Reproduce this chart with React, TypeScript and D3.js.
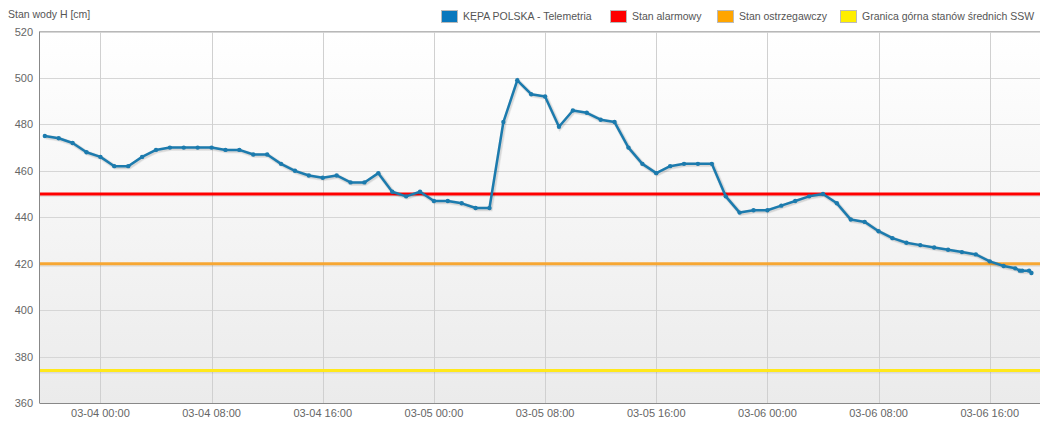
import * as d3 from "d3";

const width = 1040;
const height = 422;
const margin = { top: 31.5, right: 0, bottom: 19, left: 39.5 };

// hourly readings, from 03-03 20:00 to 03-06 17:00
const hourlyStart = new Date(2024, 2, 3, 20, 0);
const hourlyValues = [
  475, 474, 472, 468, 466, 462, 462, 466, 469, 470, 470, 470, 470, 469, 469, 467,
  467, 463, 460, 458, 457, 458, 455, 455, 459, 451, 449, 451, 447, 447, 446, 444,
  444, 481, 499, 493, 492, 479, 486, 485, 482, 481, 470, 463, 459, 462, 463, 463,
  463, 449, 442, 443, 443, 445, 447, 449, 450, 446, 439, 438, 434, 431, 429, 428,
  427, 426, 425, 424, 421, 419,
];
// denser readings at the end of the series
const tailTimes = ["03-06 17:50", "03-06 18:10", "03-06 18:20", "03-06 18:50", "03-06 19:00"];
const tailValues = [418, 417, 417, 417, 416];

const thresholdNames = ["Stan alarmowy", "Stan ostrzegawczy", "Granica górna stanów średnich SSW"];
const thresholdValues = [450, 420, 374];
const thresholdColors = ["#ff0000", "#f7a733", "#ffe81a"];
const legendColors = ["#ff0000", "#ffa500", "#ffee00"];

const seriesName = "KĘPA POLSKA - Telemetria";
const seriesColor = "#1c7bae";
const yTicks = [360, 380, 400, 420, 440, 460, 480, 500, 520];

const parseTail = d3.timeParse("%Y-%m-%d %H:%M");

export default function App() {
  const hourTimes = d3.timeHour.range(hourlyStart, d3.timeHour.offset(hourlyStart, hourlyValues.length));
  const data = [
    ...hourlyValues.map((v, i) => ({ t: hourTimes[i], v })),
    ...tailValues.map((v, i) => ({ t: parseTail("2024-" + tailTimes[i])!, v })),
  ];

  const x = d3
    .scaleTime()
    .domain([new Date(2024, 2, 3, 19, 37), new Date(2024, 2, 6, 19, 37)])
    .range([margin.left, width - margin.right]);
  const y = d3.scaleLinear().domain([360, 520]).range([height - margin.bottom, margin.top]);

  const xTicks = d3.timeHour.every(8)!.range(new Date(2024, 2, 4, 0, 0), new Date(2024, 2, 6, 19, 0));
  const fmt = d3.timeFormat("%m-%d %H:%M");

  const line = d3
    .line<{ t: Date; v: number }>()
    .x((d) => x(d.t))
    .y((d) => y(d.v));

  const path = line(data)!;
  const x0 = margin.left;
  const x1 = width - margin.right;
  const yTop = margin.top;
  const yBot = height - margin.bottom;

  // legend layout
  const legendItems = [
    { name: seriesName, color: "#0a78bd", x: 441 },
    { name: thresholdNames[0], color: legendColors[0], x: 610 },
    { name: thresholdNames[1], color: legendColors[1], x: 717 },
    { name: thresholdNames[2], color: legendColors[2], x: 840 },
  ];

  return (
    <svg
      width={width}
      height={height}
      style={{ position: "absolute", left: 0, top: 0, fontFamily: "Arial, 'Liberation Sans', sans-serif" }}
    >
      <defs>
        <linearGradient id="bg" x1="0" y1="0" x2="0" y2="1">
          <stop offset="0" stopColor="#ffffff" />
          <stop offset="1" stopColor="#ebebeb" />
        </linearGradient>
        <clipPath id="plot">
          <rect x={x0} y={yTop} width={x1 - x0} height={yBot - yTop} />
        </clipPath>
      </defs>
      <rect x={0} y={0} width={width} height={height} fill="#fff" />
      <rect x={x0} y={yTop} width={x1 - x0} height={yBot - yTop} fill="url(#bg)" />

      {/* grid */}
      {yTicks.map((t) => (
        <line key={"gy" + t} x1={x0} x2={x1} y1={Math.round(y(t)) + 0.5} y2={Math.round(y(t)) + 0.5} stroke="#d6d6d6" />
      ))}
      {xTicks.map((t) => (
        <line
          key={"gx" + +t}
          x1={Math.round(x(t)) + 0.5}
          x2={Math.round(x(t)) + 0.5}
          y1={yTop}
          y2={yBot}
          stroke="#d0d0d0"
        />
      ))}

      <g clipPath="url(#plot)">
        {thresholdValues.map((v, i) => (
          <g key={"th" + i}>
            <line x1={x0} x2={x1} y1={y(v) + 1.5} y2={y(v) + 1.5} stroke="#000" strokeOpacity={0.08} strokeWidth={3} />
            <line x1={x0} x2={x1} y1={y(v)} y2={y(v)} stroke={thresholdColors[i]} strokeWidth={3} />
          </g>
        ))}

        {/* series shadow */}
        <path d={path} fill="none" stroke="#000" strokeOpacity={0.06} strokeWidth={5} transform="translate(1,1)" />
        <path d={path} fill="none" stroke="#000" strokeOpacity={0.08} strokeWidth={3.5} transform="translate(1,1)" />
        <path d={path} fill="none" stroke={seriesColor} strokeWidth={2.5} strokeLinejoin="round" />
        {data.map((d, i) => (
          <circle key={"p" + i} cx={x(d.t)} cy={y(d.v)} r={2.2} fill={seriesColor} />
        ))}
      </g>

      {/* axes / frame */}
      <line x1={x0} x2={x1} y1={yTop} y2={yTop} stroke="#b8b8b8" />
      <line x1={x0} x2={x0} y1={yTop} y2={yBot} stroke="#888" />
      <line x1={x0} x2={x1} y1={yBot + 0.5} y2={yBot + 0.5} stroke="#888" />

      {yTicks.map((t) => (
        <text key={"ty" + t} x={33} y={y(t) + 4} textAnchor="end" fontSize={11} fill="#666">
          {t}
        </text>
      ))}
      {xTicks.map((t) => (
        <text key={"tx" + +t} x={x(t)} y={417} textAnchor="middle" fontSize={11} fill="#666">
          {fmt(t)}
        </text>
      ))}

      <text x={8} y={18} fontSize={10.5} fill="#555">
        Stan wody H [cm]
      </text>

      {legendItems.map((it) => (
        <g key={it.name}>
          <rect x={it.x + 0.5} y={10.5} width={16} height={12} fill={it.color} stroke="#bbb" />
          <text x={it.x + 22} y={20} fontSize={10.5} fill="#555">
            {it.name}
          </text>
        </g>
      ))}
    </svg>
  );
}
